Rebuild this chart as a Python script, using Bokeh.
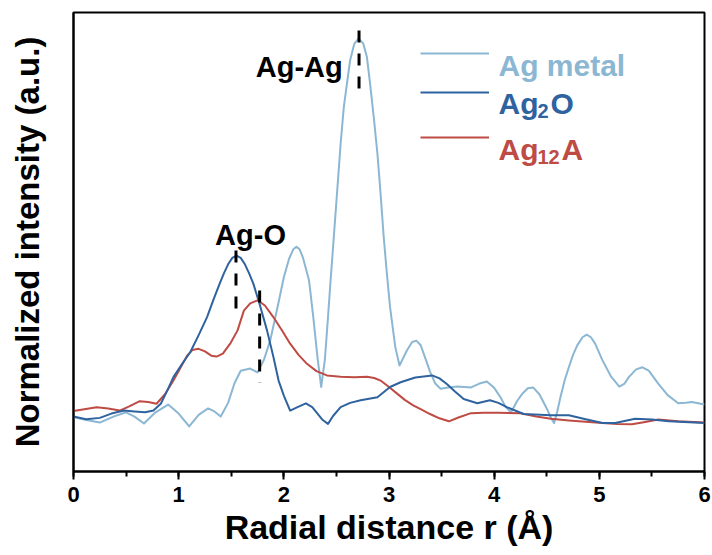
from bokeh.plotting import figure
from bokeh.models import Range1d, Label, Legend, LegendItem, SingleIntervalTicker, FixedTicker
from bokeh.embed import file_html
from bokeh.resources import INLINE

FONT = "Liberation Sans"

# ---- data ----
ag_metal_r = [0.00, 0.12, 0.25, 0.38, 0.50, 0.58, 0.67, 0.78, 0.90, 1.00, 1.10, 1.19, 1.28, 1.34, 1.40,
              1.47, 1.53, 1.59, 1.68, 1.75, 1.81, 1.87, 1.94, 2.00, 2.05, 2.09, 2.12, 2.15, 2.18, 2.24,
              2.28, 2.32, 2.355, 2.39, 2.42, 2.44, 2.475, 2.51, 2.54, 2.57, 2.60, 2.63, 2.67, 2.71,
              2.755, 2.79, 2.82, 2.855, 2.89, 2.92, 2.95, 2.98, 3.01, 3.06, 3.10, 3.17, 3.22, 3.26,
              3.30, 3.33, 3.39, 3.44, 3.49, 3.56, 3.65, 3.78, 3.86, 3.93, 4.00, 4.06, 4.11, 4.16, 4.22,
              4.27, 4.32, 4.37, 4.43, 4.50, 4.54, 4.57, 4.60, 4.63, 4.67, 4.71, 4.75, 4.79, 4.84, 4.88,
              4.92, 4.96, 5.03, 5.11, 5.19, 5.24, 5.28, 5.35, 5.41, 5.47, 5.56, 5.65, 5.75, 5.82, 5.88, 6.00]
ag_metal_y = [0.127, 0.120, 0.114, 0.128, 0.138, 0.128, 0.112, 0.138, 0.156, 0.135, 0.105, 0.132, 0.147, 0.140, 0.128,
              0.160, 0.205, 0.235, 0.240, 0.231, 0.260, 0.305, 0.383, 0.453, 0.496, 0.518, 0.524, 0.518, 0.500, 0.445,
              0.360, 0.266, 0.197, 0.260, 0.360, 0.430, 0.546, 0.663, 0.764, 0.849, 0.904, 0.958, 0.997, 1.009,
              0.998, 0.966, 0.904, 0.826, 0.741, 0.647, 0.546, 0.461, 0.383, 0.290, 0.247, 0.282, 0.302, 0.305,
              0.295, 0.275, 0.233, 0.205, 0.193, 0.196, 0.198, 0.196, 0.205, 0.210, 0.195, 0.173, 0.150, 0.138, 0.165,
              0.182, 0.194, 0.196, 0.180, 0.147, 0.125, 0.113, 0.140, 0.173, 0.212, 0.243, 0.272, 0.294, 0.313, 0.319,
              0.313, 0.298, 0.259, 0.222, 0.198, 0.205, 0.220, 0.238, 0.243, 0.235, 0.205, 0.178, 0.159, 0.160, 0.162, 0.156]

ag2o_r = [0.00, 0.12, 0.25, 0.36, 0.48, 0.58, 0.68, 0.76, 0.83, 0.89, 0.95, 1.03, 1.11, 1.19, 1.27,
          1.33, 1.39, 1.43, 1.47, 1.51, 1.55, 1.59, 1.63, 1.67, 1.71, 1.77, 1.84, 1.90, 1.95, 2.00,
          2.06, 2.13, 2.21, 2.27, 2.32, 2.37, 2.42, 2.47, 2.54, 2.63, 2.73, 2.89, 3.01, 3.11, 3.25,
          3.41, 3.48, 3.55, 3.63, 3.71, 3.84, 3.96, 4.04, 4.12, 4.28, 4.54, 4.71, 4.87, 5.03, 5.15,
          5.34, 5.50, 5.66, 6.00]
ag2o_y = [0.128, 0.122, 0.125, 0.135, 0.142, 0.140, 0.138, 0.142, 0.158, 0.188, 0.220, 0.250, 0.278, 0.318, 0.360,
          0.400, 0.438, 0.462, 0.483, 0.498, 0.503, 0.498, 0.483, 0.462, 0.438, 0.390, 0.329, 0.268, 0.212, 0.177,
          0.142, 0.150, 0.159, 0.150, 0.135, 0.120, 0.111, 0.130, 0.150, 0.160, 0.166, 0.173, 0.197, 0.208, 0.219,
          0.224, 0.217, 0.204, 0.186, 0.169, 0.159, 0.166, 0.160, 0.150, 0.134, 0.131, 0.131, 0.122, 0.113, 0.113,
          0.123, 0.121, 0.117, 0.113]

ag12a_r = [0.00, 0.22, 0.33, 0.44, 0.53, 0.63, 0.71, 0.79, 0.87, 0.95, 1.02, 1.08, 1.13, 1.19, 1.25,
           1.31, 1.36, 1.42, 1.49, 1.56, 1.62, 1.68, 1.75, 1.82, 1.90, 1.98, 2.06, 2.14, 2.22, 2.31,
           2.41, 2.54, 2.67, 2.79, 2.86, 2.92, 3.00, 3.08, 3.15, 3.23, 3.31, 3.39, 3.48, 3.57, 3.66,
           3.78, 3.90, 4.03, 4.25, 4.40, 4.54, 4.71, 5.03, 5.17, 5.31, 5.45, 5.56, 5.75, 6.00]
ag12a_y = [0.141, 0.150, 0.147, 0.142, 0.152, 0.164, 0.162, 0.158, 0.180, 0.212, 0.243, 0.270, 0.283, 0.286, 0.280,
           0.270, 0.268, 0.275, 0.298, 0.329, 0.375, 0.392, 0.399, 0.387, 0.360, 0.330, 0.298, 0.272, 0.251, 0.234,
           0.224, 0.221, 0.220, 0.221, 0.218, 0.212, 0.197, 0.181, 0.167, 0.154, 0.144, 0.134, 0.124, 0.117, 0.126,
           0.136, 0.137, 0.137, 0.136, 0.128, 0.123, 0.119, 0.113, 0.111, 0.110, 0.116, 0.121, 0.117, 0.114]

series_colors = ["#8BB7D3", "#2F639F", "#BE4B44"]
# legend texts: (main part, subscript, rest)
legend_main = ["Ag metal", "Ag", "Ag"]
legend_sub = ["", "2", "12"]
legend_rest = ["", "O", "A"]

# peak markers (dashed) and their labels
marker_r = [2.715, 1.545, 1.77]
marker_top = [1.028, 0.515, 0.422]
marker_bottom = [0.876, 0.364, 0.207]
peak_labels = ["Ag-Ag", "Ag-O"]
peak_label_r = [2.56, 2.02]
peak_label_y = [0.944, 0.552]

# ---- figure ----
p = figure(width=712, height=555, output_backend="svg", toolbar_location=None,
           x_range=Range1d(0, 6), y_range=Range1d(0, 1.07),
           min_border_left=73, min_border_right=8, min_border_top=12, min_border_bottom=84)
p.background_fill_color = "white"
p.border_fill_color = "white"
p.grid.visible = False
p.outline_line_color = "black"
p.outline_line_width = 2

xa = p.xaxis[0]
xa.ticker = SingleIntervalTicker(interval=1, num_minor_ticks=2)
xa.axis_line_width = 2
xa.major_tick_line_width = 2
xa.minor_tick_line_width = 2
xa.major_tick_in = 0
xa.major_tick_out = 8
xa.minor_tick_in = 0
xa.minor_tick_out = 5
xa.major_label_standoff = 7
xa.major_label_text_font = FONT
xa.major_label_text_font_style = "bold"
xa.major_label_text_font_size = "22px"
xa.major_label_text_color = "black"
xa.axis_label = "Radial distance r (Å)"
xa.axis_label_text_font = FONT
xa.axis_label_text_font_style = "bold"
xa.axis_label_text_font_size = "34px"
xa.axis_label_text_color = "black"
xa.axis_label_standoff = 3

ya = p.yaxis[0]
ya.ticker = FixedTicker(ticks=[])
ya.axis_line_width = 2
ya.major_tick_out = 0
ya.major_tick_in = 0
ya.minor_tick_out = 0
ya.minor_tick_in = 0
ya.axis_label = "Normalized intensity (a.u.)"
ya.axis_label_text_font = FONT
ya.axis_label_text_font_style = "bold"
ya.axis_label_text_font_size = "33px"
ya.axis_label_text_color = "black"
ya.axis_label_standoff = 28

r_metal = p.line(ag_metal_r, ag_metal_y, line_color=series_colors[0], line_width=2, line_join="round")
r_12a = p.line(ag12a_r, ag12a_y, line_color=series_colors[2], line_width=2, line_join="round")
r_2o = p.line(ag2o_r, ag2o_y, line_color=series_colors[1], line_width=2, line_join="round")

p.segment(x0=marker_r, y0=marker_top, x1=marker_r, y1=marker_bottom,
          line_color="black", line_width=3, line_dash="12 11")

for txt, rx, ry in zip(peak_labels, peak_label_r, peak_label_y):
    p.add_layout(Label(x=rx, y=ry, text=txt, text_align="right", text_baseline="alphabetic",
                       text_font=FONT, text_font_style="bold", text_font_size="29px",
                       text_color="black"))

# legend: glyph samples through Bokeh legends, texts as labels (with subscripts)
legend_rows = [(r_metal, 0, 401, 0.946), (r_2o, 1, 362, 0.857), (r_12a, 2, 317, 0.750)]
for rend, i, ypos, ybase in legend_rows:
    leg = Legend(items=[LegendItem(label=" ", renderers=[rend])],
                 location=(347, ypos), border_line_color=None, background_fill_alpha=0,
                 padding=0, margin=0, spacing=0, glyph_width=69, glyph_height=34,
                 label_standoff=9, label_height=34, label_width=10,
                 label_text_font=FONT, label_text_font_style="bold",
                 label_text_font_size="20px", label_text_color=series_colors[i])
    p.add_layout(leg)
    common = dict(x=4.041, y=ybase, text_baseline="alphabetic", text_font=FONT,
                  text_font_style="bold", text_color=series_colors[i])
    p.add_layout(Label(text=legend_main[i], text_font_size="30px", **common))
    if legend_sub[i]:
        p.add_layout(Label(text=legend_sub[i], text_font_size="20px", x_offset=39, y_offset=-7, **common))
        sub_w = 11 * len(legend_sub[i]) + 2
        p.add_layout(Label(text=legend_rest[i], text_font_size="30px", x_offset=39 + sub_w, **common))

open("out.html", "w").write(file_html(p, INLINE))
